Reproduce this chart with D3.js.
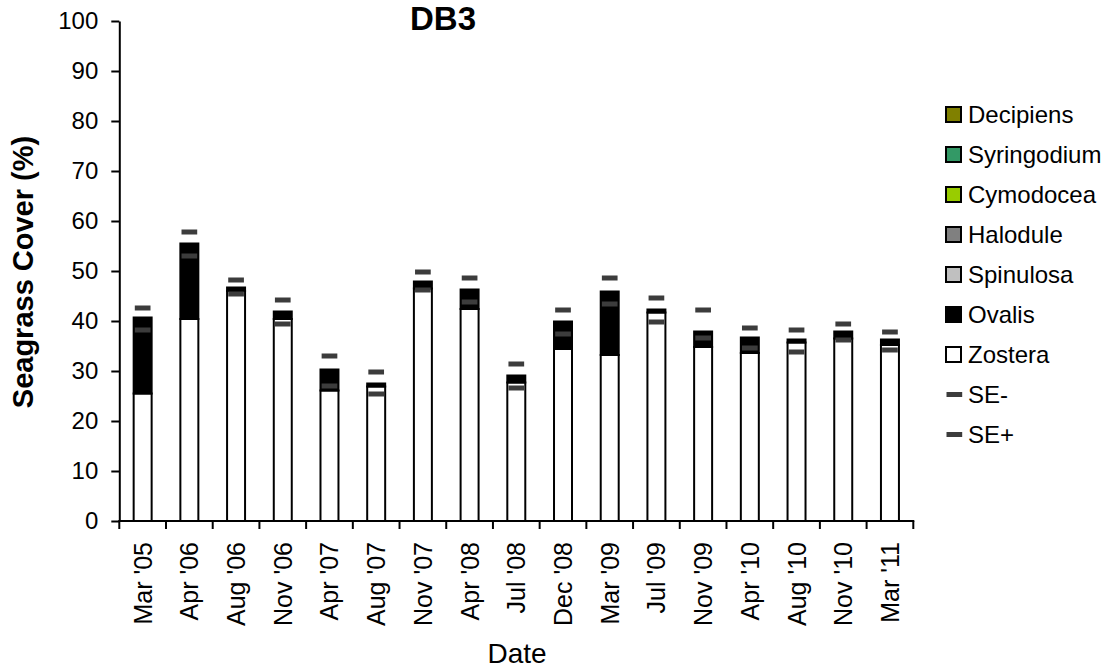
<!DOCTYPE html>
<html>
<head>
<meta charset="utf-8">
<script src="https://cdn.jsdelivr.net/npm/d3@7"></script>
<style>
  html, body { margin: 0; padding: 0; background: #fff; }
  svg { display: block; font-family: "Liberation Sans", Arial, Helvetica, sans-serif; }
</style>
</head>
<body>
<svg id="chart" width="1108" height="671"></svg>
<script>
const categories = ["Mar '05","Apr '06","Aug '06","Nov '06","Apr '07","Aug '07","Nov '07","Apr '08","Jul '08","Dec '08","Mar '09","Jul '09","Nov '09","Apr '10","Aug '10","Nov '10","Mar '11"];
const zostera   = [25.5, 40.4, 46.0, 40.4, 26.1, 26.9, 46.5, 42.4, 27.7, 34.4, 33.2, 41.7, 34.8, 33.6, 35.7, 36.5, 35.2];
const ovalis    = [15.2, 15.1, 0.7, 1.5, 4.2, 0.6, 1.4, 3.9, 1.4, 5.5, 12.7, 0.6, 3.1, 3.1, 0.6, 1.4, 1.1];
const spinulosa = [0,0,0,0,0,0,0,0,0,0,0,0,0,0,0,0,0];
const halodule  = [0,0,0,0,0,0,0,0,0,0,0,0,0,0,0,0,0];
const cymodocea = [0,0,0,0,0,0,0,0,0,0,0,0,0,0,0,0,0];
const syringodium = [0,0,0,0,0,0,0,0,0,0,0,0,0,0,0,0,0];
const decipiens = [0,0,0,0,0,0,0,0,0,0,0,0,0,0,0,0,0];
const seMinus   = [38.2, 53.0, 45.4, 39.4, 27.0, 25.4, 46.2, 43.8, 26.6, 37.4, 43.4, 39.8, 36.6, 34.6, 33.8, 36.2, 34.2];
const sePlus    = [42.6, 57.8, 48.2, 44.2, 33.0, 29.8, 49.8, 48.6, 31.4, 42.2, 48.6, 44.6, 42.2, 38.6, 38.2, 39.4, 37.8];
const yTicks    = [0,10,20,30,40,50,60,70,80,90,100];

const speciesNames = ["Zostera","Ovalis","Spinulosa","Halodule","Cymodocea","Syringodium","Decipiens"];
const speciesValues = [zostera, ovalis, spinulosa, halodule, cymodocea, syringodium, decipiens];
const speciesColors = ["#ffffff","#000000","#c0c0c0","#808080","#99cc00","#339966","#808000"];

const rows = categories.map((c, i) => {
  const r = {cat: c};
  speciesNames.forEach((s, k) => r[s] = speciesValues[k][i]);
  return r;
});

const svg = d3.select("#chart");
const plotLeft = 119.3, plotRight = 913.3, plotTop = 21, plotBottom = 521;

const x = d3.scaleBand().domain(categories).range([plotLeft, plotRight]).padding(0);
const y = d3.scaleLinear().domain([0, 100]).range([plotBottom, plotTop]);
const barW = x.bandwidth() * 0.385;

const stack = d3.stack().keys(speciesNames)(rows);

const g = svg.append("g");
stack.forEach((layer, k) => {
  g.selectAll(null).data(layer.filter(d => d[1] - d[0] > 0)).enter().append("rect")
    .attr("x", d => x(d.data.cat) + x.bandwidth()/2 - barW/2)
    .attr("y", d => y(d[1]))
    .attr("width", barW)
    .attr("height", d => y(d[0]) - y(d[1]))
    .attr("fill", speciesColors[k])
    .attr("stroke", "#000")
    .attr("stroke-width", 2);
});

// SE markers
const mW = 15.7, mH = 5;
[seMinus, sePlus].forEach(arr => {
  g.selectAll(null).data(arr).enter().append("rect")
    .attr("x", (d, i) => x(categories[i]) + x.bandwidth()/2 - mW/2)
    .attr("y", d => y(d) - mH/2)
    .attr("width", mW).attr("height", mH)
    .attr("fill", "#3c3c3c");
});

// Y axis
const yAxis = d3.axisLeft(y).tickValues(yTicks).tickSize(8).tickPadding(13).tickSizeOuter(0);
const ya = svg.append("g").attr("transform", `translate(${plotLeft},0)`).call(yAxis);
ya.select(".domain").attr("stroke", "#000").attr("stroke-width", 2);
ya.selectAll(".tick line").attr("stroke", "#000").attr("stroke-width", 2);
ya.selectAll(".tick text").attr("font-size", 24).attr("fill", "#000")
  .attr("font-family", "Liberation Sans, Arial, sans-serif");

// X axis: ticks at category boundaries
const boundaries = categories.map(c => x(c)).concat([plotRight]);
const xa = svg.append("g");
xa.append("line").attr("x1", plotLeft - 1).attr("x2", plotRight + 1).attr("y1", plotBottom).attr("y2", plotBottom)
  .attr("stroke", "#000").attr("stroke-width", 2);
xa.selectAll(null).data(boundaries).enter().append("line")
  .attr("x1", d => d).attr("x2", d => d).attr("y1", plotBottom).attr("y2", plotBottom + 8)
  .attr("stroke", "#000").attr("stroke-width", 2);
xa.selectAll(null).data(categories).enter().append("text")
  .attr("transform", d => `translate(${x(d) + x.bandwidth()/2 + 9},${plotBottom + 21}) rotate(-90)`)
  .attr("text-anchor", "end")
  .attr("font-size", 25)
  .attr("fill", "#000")
  .text(d => d);

// Titles
svg.append("text").attr("x", 443).attr("y", 30).attr("text-anchor", "middle")
  .attr("font-size", 33).attr("font-weight", "bold").text("DB3");
svg.append("text").attr("transform", "translate(33,272) rotate(-90)").attr("text-anchor", "middle")
  .attr("font-size", 29).attr("font-weight", "bold").text("Seagrass Cover (%)");
svg.append("text").attr("x", 517).attr("y", 663).attr("text-anchor", "middle")
  .attr("font-size", 28).text("Date");

// Legend
const legendItems = [
  {name: "Decipiens", color: "#808000", type: "box"},
  {name: "Syringodium", color: "#339966", type: "box"},
  {name: "Cymodocea", color: "#99cc00", type: "box"},
  {name: "Halodule", color: "#808080", type: "box"},
  {name: "Spinulosa", color: "#c0c0c0", type: "box"},
  {name: "Ovalis", color: "#000000", type: "box"},
  {name: "Zostera", color: "#ffffff", type: "box"},
  {name: "SE-", color: "#3c3c3c", type: "dash"},
  {name: "SE+", color: "#3c3c3c", type: "dash"}
];
const lg = svg.append("g");
legendItems.forEach((it, i) => {
  const cy = 114.5 + 40 * i;
  if (it.type === "box") {
    lg.append("rect").attr("x", 946).attr("y", cy - 7.5).attr("width", 15).attr("height", 15)
      .attr("fill", it.color).attr("stroke", "#000").attr("stroke-width", 2);
  } else {
    lg.append("rect").attr("x", 946.5).attr("y", cy - 2.5).attr("width", 15.7).attr("height", 5)
      .attr("fill", it.color);
  }
  lg.append("text").attr("x", 968).attr("y", cy + 8.5).attr("font-size", 24).attr("fill", "#000").text(it.name);
});
</script>
</body>
</html>
